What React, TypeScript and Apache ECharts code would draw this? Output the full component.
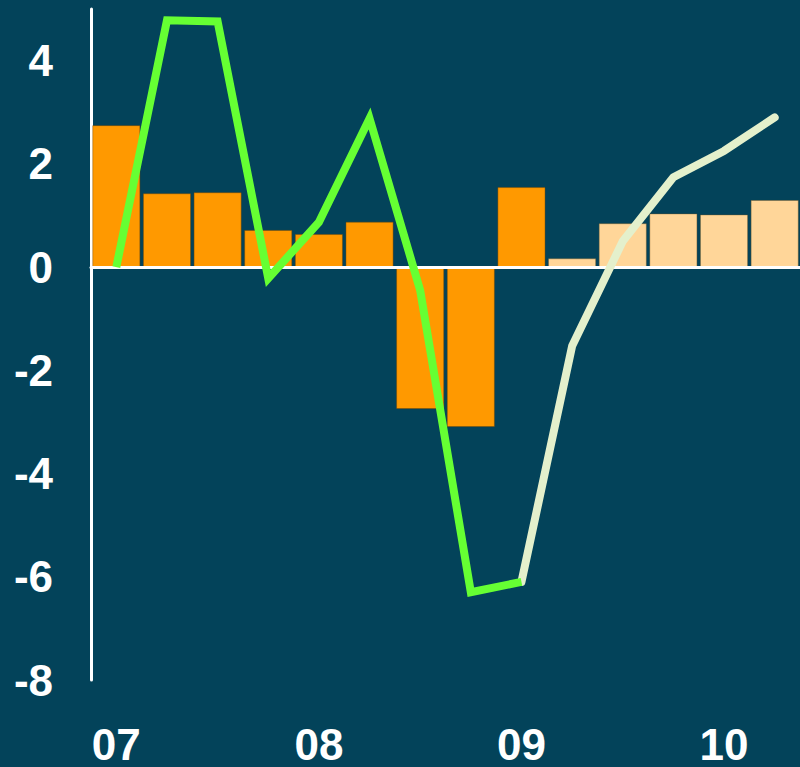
import React, { useEffect, useRef } from "react";
import * as echarts from "echarts";

const quarters = [
  "07 Q1", "07 Q2", "07 Q3", "07 Q4",
  "08 Q1", "08 Q2", "08 Q3", "08 Q4",
  "09 Q1", "09 Q2", "09 Q3", "09 Q4",
  "10 Q1", "10 Q2",
];
// bars: actual (orange) then forecast (peach)
const barActual = [2.75, 1.43, 1.45, 0.72, 0.64, 0.88, -2.75, -3.1, 1.55, null, null, null, null, null];
const barForecast = [null, null, null, null, null, null, null, null, null, 0.17, 0.85, 1.04, 1.02, 1.3];
// line: actual (green) then forecast (beige)
const lineActual = [0.0, 4.78, 4.76, -0.22, 0.87, 2.88, -0.45, -6.3, -6.1, null, null, null, null, null];
const lineForecast = [null, null, null, null, null, null, null, null, -6.1, -1.53, 0.5, 1.74, 2.25, 2.9];
const yMin = -8;
const yMax = 5;
const yStep = 2;

const BG = "#03435A";
const FONT = "'Liberation Sans', Arial, sans-serif";

export default function App() {
  const ref = useRef<HTMLDivElement>(null);
  useEffect(() => {
    if (!ref.current) return;
    const chart = echarts.init(ref.current, undefined, { renderer: "svg" });
    chart.setOption({
      animation: false,
      backgroundColor: BG,
      grid: { left: 91, right: 0, top: 9, bottom: 87, containLabel: false },
      xAxis: [
        {
          type: "category",
          data: quarters,
          position: "bottom",
          z: 3,
          axisLine: { show: true, onZero: true, lineStyle: { color: "#FFFFFF", width: 3 } },
          axisTick: { show: false },
          axisLabel: { show: false },
          splitLine: { show: false },
        },
        {
          type: "category",
          data: quarters,
          position: "bottom",
          axisLine: { show: false, onZero: false },
          axisTick: { show: false },
          splitLine: { show: false },
          axisLabel: {
            show: true,
            interval: 3,
            margin: 42,
            color: "#FFFFFF",
            fontSize: 44,
            fontWeight: "bold",
            fontFamily: FONT,
            formatter: (v: string) => v.split(" ")[0],
          },
        },
      ],
      yAxis: {
        type: "value",
        min: yMin,
        max: yMax,
        interval: yStep,
        axisLine: { show: true, lineStyle: { color: "#FFFFFF", width: 3 } },
        axisTick: { show: false },
        splitLine: { show: false },
        axisLabel: {
          showMaxLabel: false,
          margin: 38,
          color: "#FFFFFF",
          fontSize: 44,
          fontWeight: "bold",
          fontFamily: FONT,
        },
      },
      series: [
        {
          type: "bar",
          data: barActual,
          stack: "b",
          barCategoryGap: "5%",
          z: 2,
          itemStyle: { color: "#FF9900", borderColor: "rgba(120,70,0,0.45)", borderWidth: 1 },
        },
        {
          type: "bar",
          data: barForecast,
          stack: "b",
          barCategoryGap: "5%",
          z: 2,
          itemStyle: { color: "#FFD699", borderColor: "rgba(120,90,40,0.4)", borderWidth: 1 },
        },
        {
          type: "line",
          data: lineForecast,
          z: 4,
          symbol: "none",
          lineStyle: { color: "#E4F0CC", width: 8, cap: "round", join: "round" },
        },
        {
          type: "line",
          data: lineActual,
          z: 5,
          symbol: "none",
          lineStyle: { color: "#66FF33", width: 8, join: "miter" },
        },
      ],
    });
    return () => chart.dispose();
  }, []);
  return (
    <div
      ref={ref}
      style={{ position: "absolute", left: 0, top: 0, width: 800, height: 767 }}
    />
  );
}
